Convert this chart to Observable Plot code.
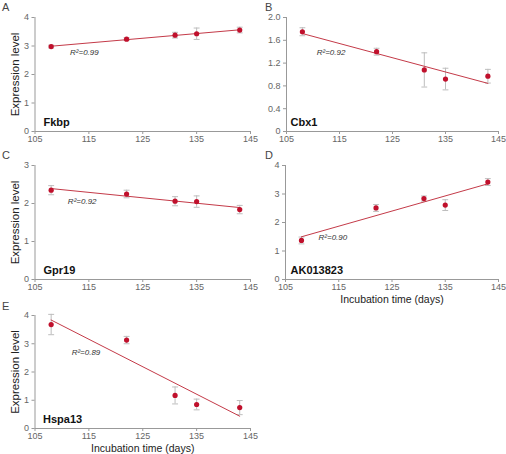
<!DOCTYPE html>
<html><head><meta charset="utf-8">
<script src="https://cdn.jsdelivr.net/npm/d3@7"></script>
<script src="https://cdn.jsdelivr.net/npm/@observablehq/plot@0.6"></script>
<style>
body{margin:0;background:#fff;font-family:"Liberation Sans",Arial,sans-serif;}
#wrap{position:relative;width:506px;height:454px;overflow:hidden;background:#fff;}
.panel{position:absolute;}
.panel svg{overflow:visible;}
.letter{position:absolute;font-size:11px;color:#444;line-height:1;}
</style></head><body><div id="wrap"></div>
<script>
// ---- data ----
const days = [108, 122, 131, 135, 143];
const xTicks = [105, 115, 125, 135, 145];
const panelLetters = ["A", "B", "C", "D", "E"];
const genes = ["Fkbp", "Cbx1", "Gpr19", "AK013823", "Hspa13"];
const r2Labels = ["R²=0.99", "R²=0.92", "R²=0.92", "R²=0.90", "R²=0.89"];

const fkbpMean = [2.98, 3.24, 3.38, 3.43, 3.56];
const fkbpErr  = [0.05, 0.05, 0.10, 0.20, 0.10];
const cbx1Mean = [1.75, 1.40, 1.08, 0.92, 0.97];
const cbx1Err  = [0.07, 0.06, 0.30, 0.19, 0.12];
const gpr19Mean = [2.35, 2.25, 2.06, 2.05, 1.84];
const gpr19Err  = [0.12, 0.10, 0.12, 0.15, 0.11];
const ak013823Mean = [1.37, 2.51, 2.84, 2.61, 3.42];
const ak013823Err  = [0.12, 0.12, 0.09, 0.19, 0.12];
const hspa13Mean = [3.68, 3.13, 1.17, 0.85, 0.74];
const hspa13Err  = [0.36, 0.13, 0.30, 0.19, 0.25];

const yTicksA = [0, 1, 2, 3, 4];
const yTicksB = [0, 0.4, 0.8, 1.2, 1.6, 2.0];
const yTicksC = [0, 1, 2, 3];
const yTicksD = [0, 1, 2, 3, 4];
const yTicksE = [0, 1, 2, 3, 4];

// R² annotation anchor (data units)
const r2X = [111.5, 110.7, 111.1, 111.2, 111.8];
const r2Y = [2.77, 1.39, 2.05, 1.47, 2.69];

const means = [fkbpMean, cbx1Mean, gpr19Mean, ak013823Mean, hspa13Mean];
const errs = [fkbpErr, cbx1Err, gpr19Err, ak013823Err, hspa13Err];
const yTicks = [yTicksA, yTicksB, yTicksC, yTicksD, yTicksE];

// ---- layout ----
const layout = [
  {left: 0,   top: 0,   width: 253, height: 150, mL: 34.5, mR: 3, mT: 17, mB: 19, yLab: true,  xLab: false, gdx: 8.5, letterX: 2,   letterY: 1.5},
  {left: 253, top: 0,   width: 253, height: 150, mL: 33,   mR: 8, mT: 17, mB: 19, yLab: false, xLab: false, gdx: 4,   letterX: 265, letterY: 1.5},
  {left: 0,   top: 148, width: 253, height: 150, mL: 34.5, mR: 3, mT: 17, mB: 19, yLab: true,  xLab: false, gdx: 8.5, letterX: 2,   letterY: 149.5},
  {left: 253, top: 148, width: 253, height: 158, mL: 32,   mR: 8, mT: 17, mB: 27, yLab: false, xLab: true,  gdx: 5,   letterX: 265, letterY: 149.5},
  {left: 0,   top: 297, width: 253, height: 157, mL: 34.5, mR: 3, mT: 18, mB: 26, yLab: true,  xLab: true,  gdx: 8,   letterX: 2,   letterY: 300.5}
];

const wrap = document.getElementById("wrap");
const axisGrey = "#999";
const errGrey = "#bdbdbd";

panelLetters.forEach((letter, i) => {
  const L = layout[i];
  const rows = days.map((d, j) => ({day: d, mean: means[i][j], lo: means[i][j] - errs[i][j], hi: means[i][j] + errs[i][j]}));
  const ticks = yTicks[i];
  const yMax = ticks[ticks.length - 1];
  const fmt = i === 1 ? (d => d === 0 ? "0" : d.toFixed(1)) : (d => String(d));
  const marks = [
    Plot.axisX({ticks: xTicks, tickSize: 3, tickPadding: 1, stroke: axisGrey, fill: "#666", label: null, fontSize: 9}),
    Plot.axisY({ticks: ticks, tickSize: 3, tickPadding: 3, tickFormat: fmt, stroke: axisGrey, fill: "#666", label: null, fontSize: 9}),
    Plot.ruleY([0], {stroke: axisGrey}),
    Plot.ruleX([105], {y1: 0, y2: yMax, stroke: axisGrey}),
    Plot.ruleX(rows, {x: "day", y1: "lo", y2: "hi", stroke: errGrey}),
    Plot.link(rows, {x1: d => d.day - 0.55, x2: d => d.day + 0.55, y1: "hi", y2: "hi", stroke: errGrey}),
    Plot.link(rows, {x1: d => d.day - 0.55, x2: d => d.day + 0.55, y1: "lo", y2: "lo", stroke: errGrey}),
    Plot.linearRegressionY(rows, {x: "day", y: "mean", stroke: "#c43a48", strokeWidth: 1, ci: 0}),
    Plot.dot(rows, {x: "day", y: "mean", r: 2.6, fill: "#c0102c", stroke: "none"}),
    Plot.text([r2Labels[i]], {x: () => r2X[i], y: () => r2Y[i], text: d => d, textAnchor: "start", fontSize: 8, fontStyle: "italic", fill: "#333"}),
    Plot.text([genes[i]], {frameAnchor: "bottom-left", dx: L.gdx, dy: -6, text: d => d, textAnchor: "start", lineAnchor: "bottom", fontSize: 11, fontWeight: "bold", fill: "#111"})
  ];
  if (L.yLab) marks.push(Plot.text(["Expression level"], {frameAnchor: "left", dx: 15 - L.mL, rotate: -90, textAnchor: "middle", lineAnchor: "middle", text: d => d, fontSize: 11.5, fill: "#222"}));
  if (L.xLab) marks.push(Plot.text(["Incubation time (days)"], {frameAnchor: "bottom", dy: 20, textAnchor: "middle", lineAnchor: "middle", text: d => d, fontSize: 10.5, fill: "#222"}));
  const chart = Plot.plot({
    width: L.width, height: L.height,
    marginLeft: L.mL, marginRight: L.mR, marginTop: L.mT, marginBottom: L.mB,
    style: {fontFamily: "'Liberation Sans', Arial, sans-serif", background: "transparent", overflow: "visible"},
    x: {domain: [105, 145]},
    y: {domain: [0, yMax]},
    marks
  });
  const div = document.createElement("div");
  div.className = "panel";
  div.style.left = L.left + "px";
  div.style.top = L.top + "px";
  div.appendChild(chart);
  wrap.appendChild(div);
  const lab = document.createElement("div");
  lab.className = "letter";
  lab.style.left = L.letterX + "px";
  lab.style.top = L.letterY + "px";
  lab.textContent = letter;
  wrap.appendChild(lab);
});
</script></body></html>
